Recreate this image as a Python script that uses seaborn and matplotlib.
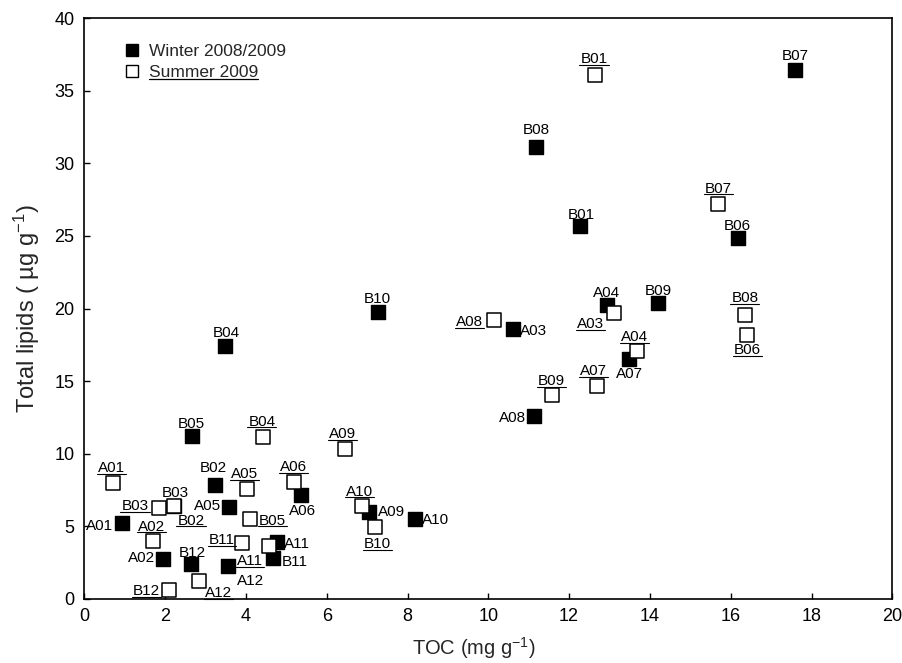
import numpy as np
import pandas as pd
import matplotlib
matplotlib.use("Agg")
import matplotlib.pyplot as plt
import seaborn as sns
from matplotlib.lines import Line2D
from matplotlib.transforms import IdentityTransform

# ---------------- data ----------------
winter_sites = ['B07', 'B08', 'B01', 'B06', 'A04', 'B09', 'A03', 'A07', 'A08', 'B10', 'B04', 'B05',
                'B02', 'A05', 'A06', 'A01', 'A11', 'B11', 'A02', 'B12', 'A12', 'A09', 'A10', 'B03']
winter_toc = [17.59, 11.18, 12.28, 16.17, 12.93, 14.21, 10.60, 13.48, 11.12, 7.26, 3.48, 2.66,
              3.24, 3.59, 5.37, 0.94, 4.76, 4.68, 1.96, 2.65, 3.56, 7.05, 8.18, 2.22]
winter_lipids = [36.46, 31.10, 25.66, 24.85, 20.22, 20.41, 18.57, 16.55, 12.60, 19.76, 17.45, 11.18,
                 7.83, 6.29, 7.14, 5.19, 3.90, 2.78, 2.71, 2.39, 2.25, 5.99, 5.51, 6.40]

summer_sites = ['B01', 'B07', 'A08', 'A03', 'A04', 'A07', 'B09', 'B08', 'B06', 'B04', 'A09', 'A10',
                'B10', 'A01', 'A05', 'A06', 'B03', 'B02', 'B05', 'A02', 'B11', 'A11', 'A12', 'B12']
summer_toc = [12.64, 15.69, 10.13, 13.12, 13.67, 12.68, 11.58, 16.35, 16.40, 4.42, 6.46, 6.87,
              7.19, 0.72, 4.03, 5.18, 1.85, 2.22, 4.10, 1.69, 3.91, 4.57, 2.85, 2.10]
summer_lipids = [36.10, 27.17, 19.19, 19.69, 17.05, 14.69, 14.02, 19.53, 18.15, 11.15, 10.35, 6.40,
                 4.92, 7.94, 7.53, 8.06, 6.22, 6.40, 5.51, 3.99, 3.86, 3.63, 1.24, 0.60]

series_names = ['Winter 2008/2009', 'Summer 2009']
x_ticks = [0, 2, 4, 6, 8, 10, 12, 14, 16, 18, 20]
y_ticks = [0, 5, 10, 15, 20, 25, 30, 35, 40]

# label placement (offset of label centre from marker centre, screen pixels, down positive)
winter_label_off = {
    'B07': (0, -15), 'B08': (0, -19), 'B01': (1, -13.3), 'B06': (0, -13.7), 'A04': (0, -13.3),
    'B09': (0, -13), 'A03': (21.3, 0.3), 'A07': (1, 14.4), 'A08': (-21, 0.3), 'B10': (0, -14.4),
    'B04': (1, -14.3), 'B05': (0, -13.6), 'B02': (-1.7, -18.3), 'A05': (-21.6, -3.3),
    'A06': (1.4, 14.3), 'A01': (-22.3, 0.7), 'A11': (20, 0.3), 'B11': (21.7, 1.7),
    'A02': (-21.6, -3.3), 'B12': (1, -12.3), 'A12': (22, 13.3), 'A09': (22.7, -1),
    'A10': (20.3, 0), 'B03': (1, -14)}
summer_label_off = {
    'B01': (-1, -17), 'B07': (0, -17.3), 'A08': (-23.7, 0.7), 'A03': (-23.6, 10),
    'A04': (-2.4, -16), 'A07': (-2.7, -16), 'B09': (-0.6, -15.7), 'B08': (0, -18.3),
    'B06': (0.6, 13.3), 'B04': (-1, -16.7), 'A09': (-2.6, -15.6), 'A10': (-2.7, -15.7),
    'B10': (2.6, 15.4), 'A01': (-2.3, -16.6), 'A05': (-2.3, -17), 'A06': (-0.4, -16),
    'B03': (-24, -4), 'B02': (17, 13.3), 'B05': (22.3, 0.3), 'A02': (-1, -15.7),
    'B11': (-20.6, -4.4), 'A11': (-19, 13.3), 'A12': (19, 11), 'B12': (-22.6, -0.7)}

winter = pd.DataFrame({'site': winter_sites, 'TOC': winter_toc, 'lipids': winter_lipids})
summer = pd.DataFrame({'site': summer_sites, 'TOC': summer_toc, 'lipids': summer_lipids})

# ---------------- style ----------------
sns.set_theme(style='ticks')
plt.rcParams['font.family'] = ['Liberation Sans', 'DejaVu Sans']
plt.rcParams['mathtext.fontset'] = 'custom'
plt.rcParams['mathtext.rm'] = 'Liberation Sans'
plt.rcParams['mathtext.it'] = 'Liberation Sans:italic'
plt.rcParams['mathtext.bf'] = 'Liberation Sans:bold'

DPI = 100
fig = plt.figure(figsize=(9.03, 6.63), dpi=DPI)
ax = fig.add_axes([84.3 / 903, (663 - 598.7) / 663, 808 / 903, 580.4 / 663])

sns.scatterplot(data=winter, x='TOC', y='lipids', ax=ax, marker='s', s=90,
                color='black', edgecolor='black', linewidth=1.0, zorder=3, legend=False)
sns.scatterplot(data=summer, x='TOC', y='lipids', ax=ax, marker='s', s=90,
                facecolor='white', edgecolor='black', linewidth=1.1, zorder=4, legend=False)

ax.set_xlim(0, 20)
ax.set_ylim(0, 40)
ax.set_xticks(x_ticks)
ax.set_yticks(y_ticks)
ax.tick_params(direction='in', length=4, width=1.0, labelsize=13, pad=7, colors='black')
for sp in ax.spines.values():
    sp.set_visible(True)
    sp.set_linewidth(1.2)
    sp.set_color('black')

ax.set_xlabel('TOC (mg g$^{-1}$)', fontsize=14.5, labelpad=6)
ax.set_ylabel('Total lipids ( µg g$^{-1}$)', fontsize=17, labelpad=9)
ax.xaxis.set_label_coords(0.482, -0.062)

LABEL_FS = 11
cap_half = 0.716 * LABEL_FS * DPI / 72 / 2


def add_labels(df, offs, zorder):
    texts = []
    for site, x, y in zip(df['site'], df['TOC'], df['lipids']):
        dx, dy = offs[site]
        t = ax.annotate(site, (x, y), xytext=(dx, -(dy + cap_half)),
                        textcoords='offset pixels', ha='center', va='baseline',
                        fontsize=LABEL_FS, color='black', zorder=zorder)
        texts.append((t, x, y, dy))
    return texts


add_labels(winter, winter_label_off, 5)
summer_texts = add_labels(summer, summer_label_off, 5)

handles = [Line2D([], [], marker='s', linestyle='none', markersize=8, markerfacecolor='black',
                  markeredgecolor='black', markeredgewidth=1.0),
           Line2D([], [], marker='s', linestyle='none', markersize=8, markerfacecolor='white',
                  markeredgecolor='black', markeredgewidth=1.0)]
leg = ax.legend(handles, series_names, loc='upper left', bbox_to_anchor=(0.048, 0.956),
                frameon=False, fontsize=12.5, handlelength=1.0, handletextpad=0.5,
                borderpad=0, borderaxespad=0, labelspacing=0.36)

# underline summer labels and legend entry
fig.canvas.draw()
renderer = fig.canvas.get_renderer()
for t, x, y, dy in summer_texts:
    bb = t.get_window_extent(renderer)
    base = ax.transData.transform((x, y))[1] - (dy + cap_half)
    yl = base - 1.8
    fig.add_artist(Line2D([bb.x0 - 1, bb.x1 + 1], [yl, yl], transform=IdentityTransform(),
                          color='black', lw=0.8, zorder=6))

lt = leg.get_texts()[1]
bb = lt.get_window_extent(renderer)
_, _, d = renderer.get_text_width_height_descent('lp', lt.get_fontproperties(), ismath=False)
yl = bb.y0 + d - 2.0
fig.add_artist(Line2D([bb.x0, bb.x1], [yl, yl], transform=IdentityTransform(),
                      color='black', lw=0.9, zorder=6))

fig.savefig('out.png', dpi=DPI)
